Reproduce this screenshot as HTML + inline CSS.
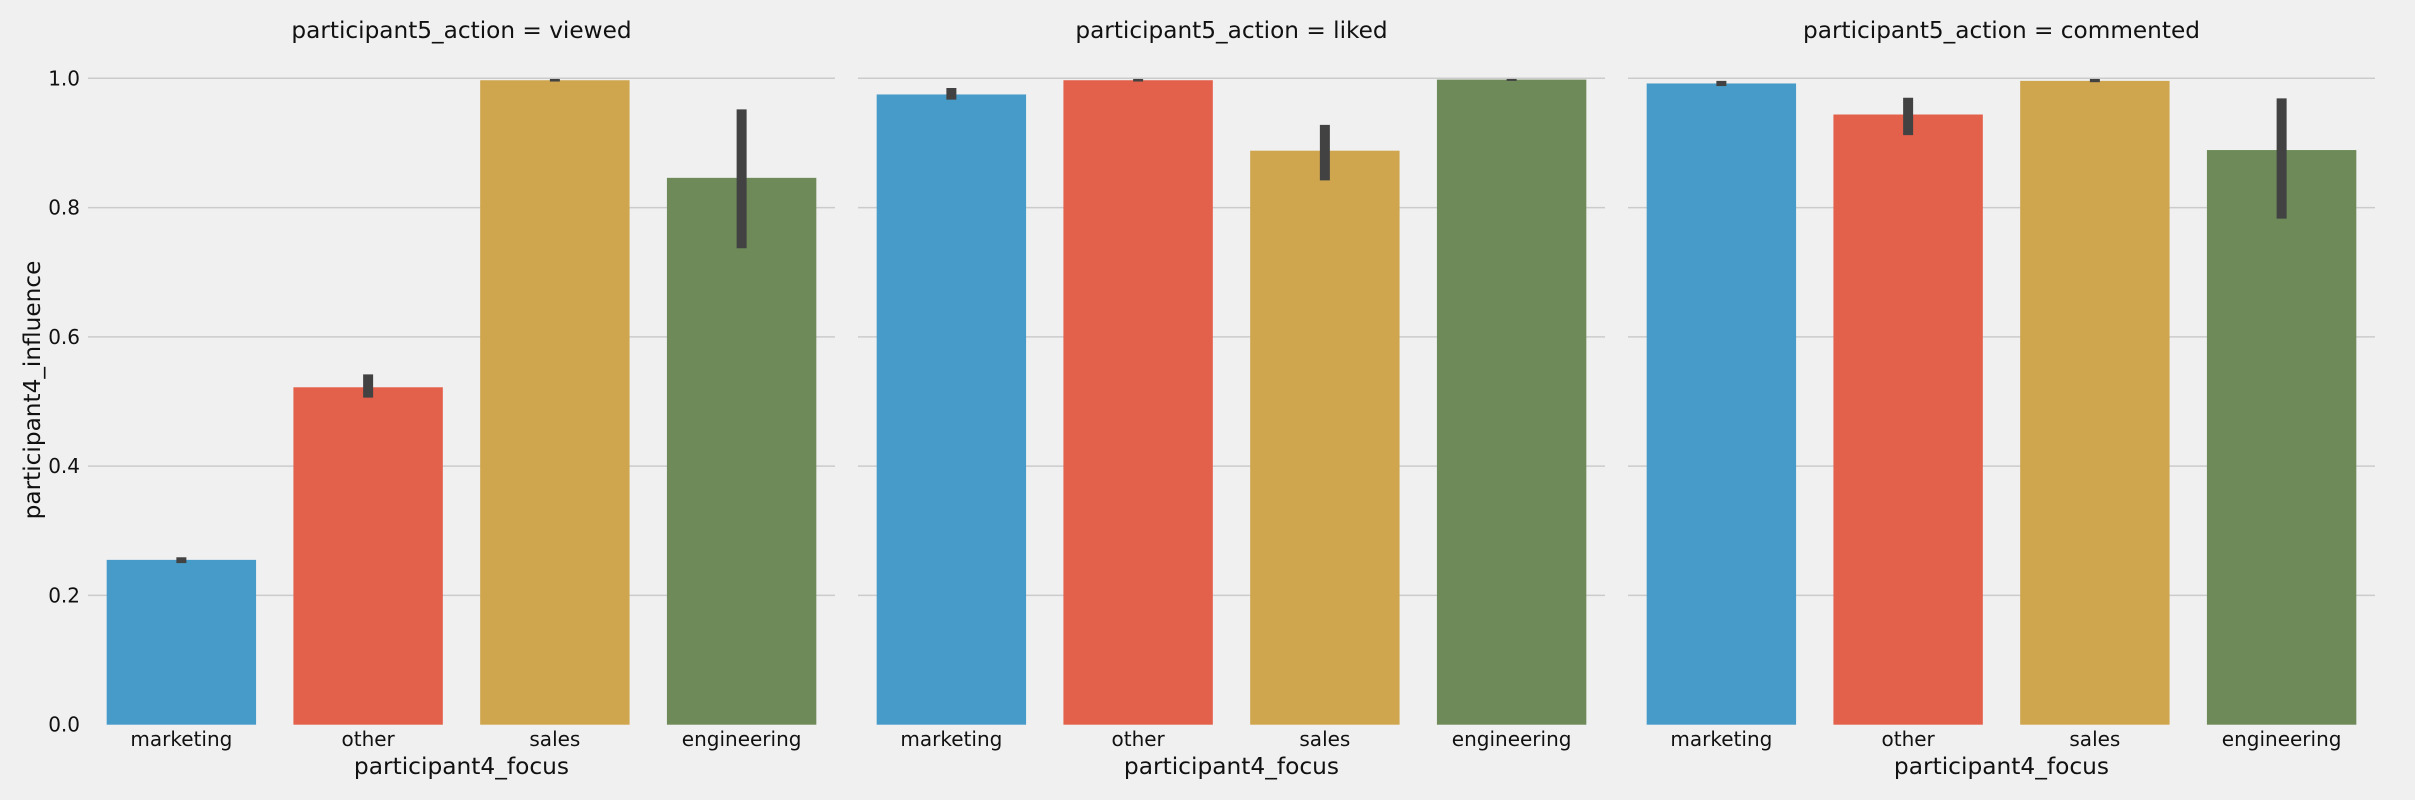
<!DOCTYPE html>
<html><head><meta charset="utf-8"><style>
html,body{margin:0;padding:0;background:#f0f0f0;}
svg{display:block;font-family:"DejaVu Sans","Liberation Sans",sans-serif;}
</style></head><body>
<svg id="chart" width="2415" height="800" viewBox="0 0 2415 800">
<rect width="2415" height="800" fill="#f0f0f0"/>
</svg>
<script>
const panels = ["viewed", "liked", "commented"];
const categories = ["marketing", "other", "sales", "engineering"];
const viewedValues = [0.255, 0.522, 0.997, 0.846];
const viewedLow = [0.250, 0.506, 0.995, 0.737];
const viewedHigh = [0.259, 0.542, 0.999, 0.952];
const likedValues = [0.975, 0.997, 0.888, 0.998];
const likedLow = [0.967, 0.995, 0.842, 0.996];
const likedHigh = [0.985, 0.999, 0.928, 0.999];
const commentedValues = [0.992, 0.944, 0.996, 0.889];
const commentedLow = [0.988, 0.912, 0.994, 0.783];
const commentedHigh = [0.996, 0.970, 0.999, 0.969];
const yTicks = [0.0, 0.2, 0.4, 0.6, 0.8, 1.0];
const yTickLabels = ["0.0", "0.2", "0.4", "0.6", "0.8", "1.0"];

const values = [viewedValues, likedValues, commentedValues];
const lows = [viewedLow, likedLow, commentedLow];
const highs = [viewedHigh, likedHigh, commentedHigh];
const colors = ["#479bc8", "#e3604b", "#cfa54e", "#6d8a58"];
const svg = document.getElementById('chart');
const NS = "http://www.w3.org/2000/svg";
const panelLeft = 88, panelW = 747, panelGap = 770;
const y0 = 724.7, y1 = 78.3;
function yScale(v){ return y0 - (y0 - y1) * v; }
function mk(tag, attrs, parent){
  const e = document.createElementNS(NS, tag);
  for (const k in attrs) e.setAttribute(k, attrs[k]);
  (parent || svg).appendChild(e);
  return e;
}
panels.forEach((p, pi) => {
  const left = panelLeft + pi * panelGap;
  const step = panelW / categories.length;
  function xScale(i){ return left + step * (i + 0.5); }
  const g = mk('g', {});
  
  
  yTicks.forEach((t, ti) => {
    if (t !== 0) {
      const ln = mk('line', {x1: left, x2: left + panelW, y1: yScale(t), y2: yScale(t), stroke: '#cbcbcb', 'stroke-width': 1.5}, g);
      
      
    }
    if (pi === 0) {
      const tl = mk('text', {x: 80, y: yScale(t) + 7, 'text-anchor': 'end', 'font-size': 20, fill: '#111'}, g);
      tl.textContent = yTickLabels[ti];
      
      
    }
  });
  categories.forEach((c, ci) => {
    const cx = xScale(ci);
    const bw = step * 0.8;
    const v = values[pi][ci];
    const bar = mk('rect', {x: cx - bw / 2, y: yScale(v), width: bw, height: yScale(0) - yScale(v), fill: colors[ci]}, g);
    
    
    const eb = mk('line', {x1: cx, x2: cx, y1: yScale(lows[pi][ci]), y2: yScale(highs[pi][ci]), stroke: '#424242', 'stroke-width': 10}, g);
    
    
    const xl = mk('text', {x: cx, y: 746, 'text-anchor': 'middle', 'font-size': 20, fill: '#111'}, g);
    xl.textContent = c;
    
    
  });
  const title = mk('text', {x: left + panelW / 2, y: 38, 'text-anchor': 'middle', 'font-size': 23.2, fill: '#111'}, g);
  title.textContent = 'participant5_action = ' + p;
  
  
  const xt = mk('text', {x: left + panelW / 2, y: 774, 'text-anchor': 'middle', 'font-size': 23.3, fill: '#111'}, g);
  xt.textContent = 'participant4_focus';
  
  
});
const yt = mk('text', {x: 0, y: 0, 'text-anchor': 'middle', 'font-size': 23.2, fill: '#111', transform: 'translate(40,390) rotate(-90)'});
yt.textContent = 'participant4_influence';


</script>
</body></html>
